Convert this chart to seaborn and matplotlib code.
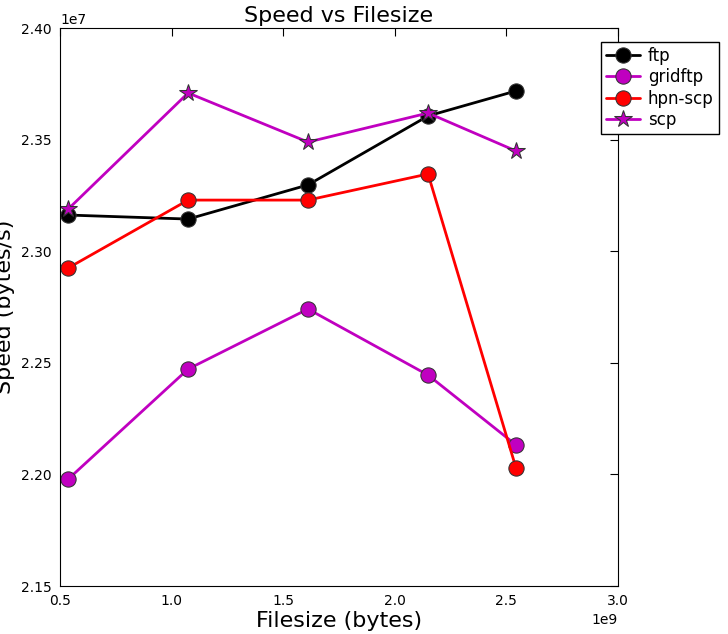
import matplotlib
matplotlib.use("Agg")
import matplotlib.pyplot as plt
import seaborn as sns
import pandas as pd

filesizes = [0.537e9, 1.074e9, 1.611e9, 2.149e9, 2.543e9]
ftp = [2.3162e7, 2.3144e7, 2.3297e7, 2.3606e7, 2.3718e7]
gridftp = [2.1979e7, 2.2472e7, 2.2741e7, 2.2445e7, 2.2132e7]
hpn_scp = [2.2925e7, 2.3229e7, 2.3229e7, 2.3346e7, 2.2029e7]
scp = [2.3189e7, 2.3709e7, 2.3489e7, 2.3619e7, 2.3449e7]

series = {"ftp": ftp, "gridftp": gridftp, "hpn-scp": hpn_scp, "scp": scp}
colors = {"ftp": "black", "gridftp": "#c000c0", "hpn-scp": "red", "scp": "#c000c0"}
markers = {"ftp": "o", "gridftp": "o", "hpn-scp": "o", "scp": "*"}

sns.set_style("white")
plt.rcParams["font.family"] = ["DejaVu Sans"]
plt.rcParams["text.color"] = "black"

fig = plt.figure(figsize=(7.28, 6.34), dpi=100)
ax = fig.add_axes([60 / 728, 48 / 634, 558 / 728, 558 / 634])

for name, vals in series.items():
    df = pd.DataFrame({"size": filesizes, "speed": vals})
    sns.lineplot(data=df, x="size", y="speed", ax=ax, color=colors[name],
                 marker=markers[name], markersize=11 if markers[name] == "o" else 13,
                 markeredgecolor="#333333", markerfacecolor=colors[name],
                 linewidth=2, label=name)

ax.set_xlim(0.5e9, 3.0e9)
ax.set_ylim(2.15e7, 2.40e7)
ax.set_xticks([0.5e9, 1.0e9, 1.5e9, 2.0e9, 2.5e9, 3.0e9])
ax.set_yticks([2.15e7, 2.20e7, 2.25e7, 2.30e7, 2.35e7, 2.40e7])
ax.tick_params(direction="in", labelsize=10, top=True, right=True, length=6,
               colors="black", pad=6)
ax.set_xlabel("Filesize (bytes)", fontsize=16, color="black", labelpad=2)
ax.set_ylabel("Speed (bytes/s)", fontsize=16, color="black", labelpad=4)
ax.set_title("Speed vs Filesize", fontsize=16, pad=4, color="black")
for s in ax.spines.values():
    s.set_color("black")
ax.legend(loc="upper left", bbox_to_anchor=(0.955, 0.99), fontsize=12,
          frameon=True, edgecolor="black", fancybox=False, framealpha=1,
          handlelength=2.0, borderpad=0.3, labelspacing=0.2, handletextpad=0.5)

fig.savefig("out.png", dpi=100)
